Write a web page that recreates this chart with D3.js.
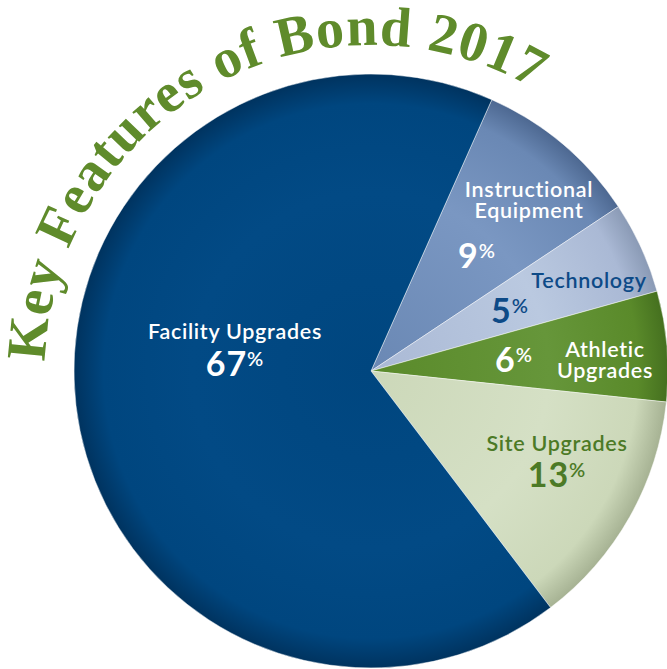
<!DOCTYPE html>
<html>
<head>
<meta charset="utf-8">
<script src="https://cdn.jsdelivr.net/npm/d3@7"></script>
<style>
  html, body { margin: 0; padding: 0; background: #fff; }
  svg { display: block; }
</style>
</head>
<body>
<svg id="chart" width="667" height="669"></svg>
<script>
// Bond 2017 spending split

var categories = ["Instructional Equipment", "Technology", "Athletic Upgrades", "Site Upgrades", "Facility Upgrades"];
var values = [9, 5, 6, 13, 67];
var titleText = "Key Features of Bond 2017";

// colours: [light, base, dark] per slice
var sliceColors = [
    ["#7a97c2", "#6a88b4", "#4d6891"],
    ["#bac9e0", "#aab9d5", "#8a9ab5"],
    ["#66963a", "#5a8a2a", "#45701f"],
    ["#d5e0c5", "#ccd8b9", "#a6b293"],
    ["#024a85", "#00467f", "#00335f"]
];
var labelColors = ["#ffffff", "#0d4a87", "#ffffff", "#4c7a26", "#ffffff"];

// label layout: name lines and percent position, offsets from the pie centre
var labelLayout = [
    {lines: ["Instructional", "Equipment"], nx: 158, ny: -174, px: 106, py: -103},
    {lines: ["Technology"], nx: 218, ny: -83, px: 139, py: -48},
    {lines: ["Athletic", "Upgrades"], nx: 234, ny: -14, px: 143, py: 1},
    {lines: ["Site Upgrades"], nx: 186, ny: 80, px: 186, py: 116},
    {lines: ["Facility Upgrades"], nx: -136, ny: -32, px: -136, py: 5}
];

var cx = 371, cy = 371, radius = 297;
var startDeg = 24;

var svg = d3.select("#chart");
var defs = svg.append("defs");

// one radial gradient per slice, centred on the slice origin
sliceColors.forEach(function (c, i) {
    var grad = defs.append("radialGradient")
        .attr("id", "g" + i)
        .attr("gradientUnits", "userSpaceOnUse")
        .attr("cx", 0).attr("cy", 0).attr("r", radius);
    grad.append("stop").attr("offset", "0%").attr("stop-color", c[1]);
    grad.append("stop").attr("offset", "60%").attr("stop-color", c[0]);
    grad.append("stop").attr("offset", "90%").attr("stop-color", c[1]);
    grad.append("stop").attr("offset", "100%").attr("stop-color", c[2]);
});

var pie = d3.pie()
    .sort(null)
    .value(d => d)
    .startAngle(startDeg * Math.PI / 180)
    .endAngle(startDeg * Math.PI / 180 + 2 * Math.PI);

var arc = d3.arc().innerRadius(0).outerRadius(radius);

svg.append("g")
    .attr("transform", "translate(" + cx + "," + cy + ")")
    .selectAll("path")
    .data(pie(values))
    .join("path")
        .attr("d", arc)
        .attr("fill", (d, i) => "url(#g" + i + ")")
        .attr("stroke", "#ffffff")
        .attr("stroke-opacity", 0.45)
        .attr("stroke-width", 1);

// labels
var labels = svg.append("g")
    .attr("font-family", "Lato, 'Noto Sans', sans-serif")
    .attr("text-anchor", "middle");

labelLayout.forEach(function (L, i) {
    var t = labels.append("text")
        .attr("x", cx + L.nx)
        .attr("y", cy + L.ny)
        .attr("fill", labelColors[i])
        .attr("font-size", 21.5)
        .attr("letter-spacing", 0.7)
        .attr("font-weight", 600);
    L.lines.forEach(function (line, k) {
        t.append("tspan")
            .attr("x", cx + L.nx)
            .attr("dy", k === 0 ? 0 : 21)
            .text(line);
    });

    var p = labels.append("text")
        .attr("x", cx + L.px)
        .attr("y", cy + L.py)
        .attr("fill", labelColors[i])
        .attr("font-size", 34)
        .attr("letter-spacing", 1)
        .attr("font-weight", 700);
    p.append("tspan").text(values[i]);
    p.append("tspan")
        .attr("font-size", 20)
        .attr("font-weight", 600)
        .attr("dy", -10)
        .text("%");
});

// curved title
var a0 = -88.4 * Math.PI / 180, a1 = 40 * Math.PI / 180, tr = 326;
var titleEnd = 30 * Math.PI / 180;
function pt(a) { return [cx + tr * Math.sin(a), cy - tr * Math.cos(a)]; }
var s = pt(a0), e = pt(a1);
defs.append("path")
    .attr("id", "titlePath")
    .attr("d", "M" + s[0] + "," + s[1] + " A" + tr + "," + tr + " 0 0 1 " + e[0] + "," + e[1]);

var title = svg.append("text")
    .attr("font-family", "'Liberation Serif', 'DejaVu Serif', serif")
    .attr("font-weight", 700)
    .attr("font-size", 56)
    .attr("fill", "#5f8b2b");

title.append("textPath")
    .attr("href", "#titlePath")
    .text(titleText);

// stretch the letter spacing so the title covers the same arc as the original
var want = tr * (titleEnd - a0);
var have = title.node().getComputedTextLength();
var spacing = (want - have) / (titleText.length - 1);
title.attr("letter-spacing", spacing);
</script>
</body>
</html>
